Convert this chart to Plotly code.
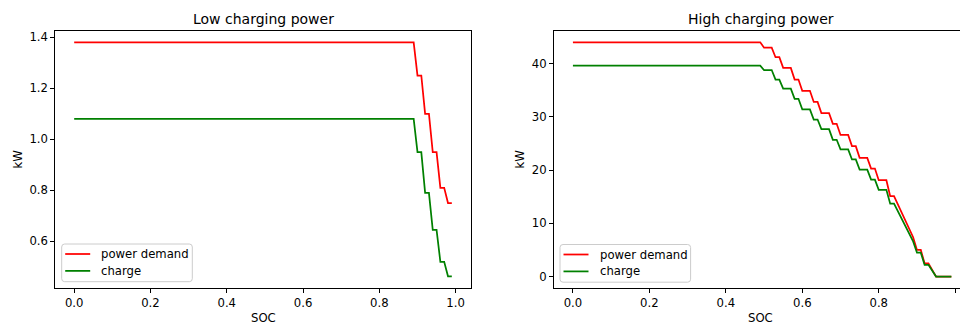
import plotly.graph_objects as go

# ---- data (vertices of the piecewise-linear curves) ----
low_soc = [0.0, 0.89, 0.90, 0.91, 0.92, 0.93, 0.94, 0.95, 0.96, 0.97, 0.98, 0.99]
low_demand = [1.38, 1.38, 1.25, 1.25, 1.10, 1.10, 0.95, 0.95, 0.81, 0.81, 0.75, 0.75]
low_charge = [1.08, 1.08, 0.95, 0.95, 0.79, 0.79, 0.645, 0.645, 0.52, 0.52, 0.463, 0.463]

high_soc = [0.0, 0.49, 0.50, 0.52, 0.53, 0.54, 0.55, 0.57, 0.58, 0.59,
            0.60, 0.62, 0.63, 0.64, 0.65, 0.67, 0.68, 0.69, 0.70, 0.72,
            0.73, 0.74, 0.75, 0.77, 0.78, 0.79, 0.80, 0.82, 0.83, 0.84,
            0.89, 0.90, 0.91, 0.92, 0.93, 0.95, 0.99]
high_demand = [44.0, 44.0, 43.0, 43.0, 41.2, 41.2, 39.2, 39.2, 37.0, 37.0,
               34.9, 34.9, 32.8, 32.8, 30.7, 30.7, 28.7, 28.7, 26.6, 26.6,
               24.5, 24.5, 22.3, 22.3, 20.3, 20.3, 18.1, 18.1, 15.1, 15.1,
               7.4, 5.0, 5.0, 2.5, 2.5, 0.0, 0.0]
high_charge = [39.6, 39.6, 38.8, 38.8, 37.0, 37.0, 35.3, 35.3, 33.4, 33.4,
               31.4, 31.4, 29.5, 29.5, 27.7, 27.7, 25.7, 25.7, 23.9, 23.9,
               22.0, 22.0, 20.1, 20.1, 18.2, 18.2, 16.3, 16.3, 13.7, 13.7,
               6.6, 4.5, 4.5, 2.2, 2.2, 0.0, 0.0]

x_ticks = [0.0, 0.2, 0.4, 0.6, 0.8, 1.0]
x_tick_text = ["0.0", "0.2", "0.4", "0.6", "0.8", "1.0"]
low_y_ticks = [0.6, 0.8, 1.0, 1.2, 1.4]
low_y_text = ["0.6", "0.8", "1.0", "1.2", "1.4"]
high_y_ticks = [0, 10, 20, 30, 40]
high_y_text = ["0", "10", "20", "30", "40"]

titles = ["Low charging power", "High charging power"]
series_names = ["power demand", "charge"]
x_label = "SOC"
y_label = "kW"

RED = "#ff0000"
GREEN = "#008000"
FONT = "DejaVu Sans"
FS = 11.67       # 10pt at 84 dpi
FS_TITLE = 14.0  # 12pt at 84 dpi
LW = 1.75
W, H = 960, 326

# panel geometry in pixels (left, right, top, bottom)
panels = [
    dict(l=55.3, r=470.7, t=30.6, b=288.3, xr=[-0.0495, 1.0395], yr=[0.416, 1.426],
         center=(55.3 + 470.7) / 2, ylab_x=18, leg=(61.7, 244.0)),
    dict(l=554.0, r=960.0, t=30.6, b=288.3, xr=[-0.0495, 1.0126], yr=[-2.2, 46.2],
         center=(554.0 + 967.0) / 2, ylab_x=520, leg=(560.0, 244.5)),
]

def px(x):
    return x / W

def py(y):
    return 1 - y / H

fig = go.Figure()
data = [(low_soc, low_demand, low_charge), (high_soc, high_demand, high_charge)]
for i, (xs, dem, chg) in enumerate(data):
    xa = "x" if i == 0 else "x2"
    ya = "y" if i == 0 else "y2"
    fig.add_trace(go.Scatter(x=xs, y=dem, mode="lines", name=series_names[0], showlegend=False,
                             line=dict(color=RED, width=LW), xaxis=xa, yaxis=ya))
    fig.add_trace(go.Scatter(x=xs, y=chg, mode="lines", name=series_names[1], showlegend=False,
                             line=dict(color=GREEN, width=LW), xaxis=xa, yaxis=ya))

axis_common = dict(showgrid=False, zeroline=False, showline=True, linecolor="black",
                   linewidth=1, ticks="outside", ticklen=4, tickwidth=1, tickcolor="black",
                   tickfont=dict(family=FONT, size=FS, color="black"), automargin=False)

p0, p1 = panels
fig.update_layout(
    width=W, height=H,
    margin=dict(l=0, r=0, t=0, b=0),
    paper_bgcolor="white", plot_bgcolor="white",
    font=dict(family=FONT, size=FS, color="black"),
    showlegend=False,
    xaxis=dict(domain=[px(p0["l"]), px(p0["r"])], range=p0["xr"], anchor="y",
               tickvals=x_ticks, ticktext=x_tick_text, mirror=True, **axis_common),
    yaxis=dict(domain=[py(p0["b"]), py(p0["t"])], range=p0["yr"], anchor="x",
               tickvals=low_y_ticks, ticktext=low_y_text, mirror=True, **axis_common),
    xaxis2=dict(domain=[px(p1["l"]), px(p1["r"])], range=p1["xr"], anchor="y2",
                tickvals=x_ticks, ticktext=x_tick_text, mirror=True, **axis_common),
    yaxis2=dict(domain=[py(p1["b"]), py(p1["t"])], range=p1["yr"], anchor="x2",
                tickvals=high_y_ticks, ticktext=high_y_text, mirror=False, **axis_common),
)

annotations = []
shapes = []
for i, p in enumerate(panels):
    ymid = (p["t"] + p["b"]) / 2
    annotations.append(dict(text=titles[i], x=px(p["center"]), y=py(19.5), xref="paper", yref="paper",
                            showarrow=False, font=dict(family=FONT, size=FS_TITLE, color="black"),
                            xanchor="center", yanchor="middle"))
    annotations.append(dict(text=x_label, x=px(p["center"]), y=py(317.5), xref="paper", yref="paper",
                            showarrow=False, font=dict(family=FONT, size=FS, color="black"),
                            xanchor="center", yanchor="middle"))
    annotations.append(dict(text=y_label, x=px(p["ylab_x"]), y=py(ymid), xref="paper", yref="paper",
                            textangle=-90, showarrow=False, font=dict(family=FONT, size=FS, color="black"),
                            xanchor="center", yanchor="middle"))
    # legend frame (rounded rectangle), handles and labels
    lx, ly = p["leg"]
    bw, bh, rr = 130.6, 37.7, 3.0
    x0, x1, y0, y1 = lx, lx + bw, ly, ly + bh
    path = (f"M {px(x0 + rr)},{py(y0)} L {px(x1 - rr)},{py(y0)} Q {px(x1)},{py(y0)} {px(x1)},{py(y0 + rr)} "
            f"L {px(x1)},{py(y1 - rr)} Q {px(x1)},{py(y1)} {px(x1 - rr)},{py(y1)} "
            f"L {px(x0 + rr)},{py(y1)} Q {px(x0)},{py(y1)} {px(x0)},{py(y1 - rr)} "
            f"L {px(x0)},{py(y0 + rr)} Q {px(x0)},{py(y0)} {px(x0 + rr)},{py(y0)} Z")
    shapes.append(dict(type="path", path=path, xref="paper", yref="paper",
                       fillcolor="rgba(255,255,255,0.8)", line=dict(color="#cccccc", width=1), layer="above"))
    for j, (name, col) in enumerate(zip(series_names, [RED, GREEN])):
        yy = ly + 10.0 + j * 16.9
        shapes.append(dict(type="line", xref="paper", yref="paper", x0=px(lx + 3.5), x1=px(lx + 28.5),
                           y0=py(yy), y1=py(yy), line=dict(color=col, width=LW), layer="above"))
        annotations.append(dict(text=name, x=px(lx + 37.6), y=py(yy), xref="paper", yref="paper",
                                showarrow=False, font=dict(family=FONT, size=FS, color="black"),
                                xanchor="left", yanchor="middle"))

fig.update_layout(annotations=annotations, shapes=shapes)

fig.write_html(
    "out.html",
    config={"displayModeBar": False},
    post_script="document.body.style.margin='0';document.body.style.padding='0';document.body.style.overflow='hidden';",
)
